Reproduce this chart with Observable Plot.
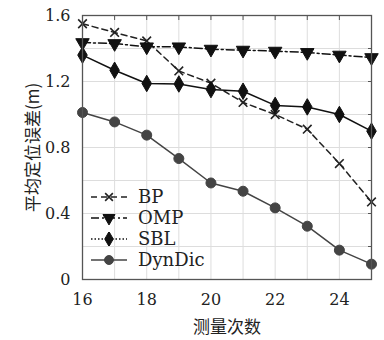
<!DOCTYPE html>
<html><head><meta charset="utf-8">
<script src="https://cdn.jsdelivr.net/npm/d3@7"></script>
<script src="https://cdn.jsdelivr.net/npm/@observablehq/plot@0.6"></script>
<style>
body{margin:0;background:#fff;}
#wrap{position:relative;width:384px;height:340px;}
#legend{position:absolute;left:90px;top:186px;font-family:"DejaVu Serif",serif;font-size:18px;color:#222;}
#legend .row{display:flex;align-items:center;height:21px;}
#legend svg{margin-right:10px;}
svg text{font-family:"DejaVu Serif",serif;}
</style></head>
<body><div id="wrap"><div id="chart"></div><div id="legend"></div></div>
<script>
const xs = [16,17,18,19,20,21,22,23,24,25];
const bp = [1.55,1.497,1.446,1.264,1.19,1.073,1.0,0.911,0.703,0.47];
const omp = [1.436,1.43,1.41,1.41,1.396,1.39,1.384,1.376,1.36,1.345];
const sbl = [1.36,1.268,1.188,1.185,1.151,1.141,1.055,1.046,1.0,0.899];
const dyn = [1.012,0.955,0.875,0.733,0.585,0.535,0.434,0.323,0.178,0.093];
const seriesNames = ["BP","OMP","SBL","DynDic"];
const yTicks = [0,0.4,0.8,1.2,1.6];
const yGrid = [0,0.2,0.4,0.6,0.8,1.0,1.2,1.4,1.6];
const xTicks = [16,18,20,22,24];
const xGrid = [16,17,18,19,20,21,22,23,24,25];

const styles = {
  BP:{stroke:"#222",dash:"6,4",symbol:"times",fill:"none",r:4,rotate:0,legendDash:"6,4"},
  OMP:{stroke:"#111",dash:"8,3,2,3",symbol:"triangle",fill:"#111",r:5,rotate:180,legendDash:"8,3,2,3"},
  SBL:{stroke:"#111",dash:null,symbol:"diamond",fill:"#111",r:5,rotate:0,legendDash:"1.5,2"},
  DynDic:{stroke:"#444",dash:null,symbol:"circle",fill:"#444",r:5,rotate:0,legendDash:null}
};
const vals = {BP:bp,OMP:omp,SBL:sbl,DynDic:dyn};
const data = seriesNames.map(s => xs.map((x,i)=>({x, y: vals[s][i], s})));

const marks = [
  Plot.ruleX(xGrid,{stroke:"#ddd",strokeWidth:1}),
  Plot.ruleY(yGrid,{stroke:"#ddd",strokeWidth:1}),
];
for (const [k,s] of seriesNames.entries()) {
  const st = styles[s];
  marks.push(Plot.line(data[k],{x:"x",y:"y",stroke:st.stroke,strokeWidth:1.5,strokeDasharray:st.dash}));
}
for (const [k,s] of seriesNames.entries()) {
  const st = styles[s];
  marks.push(Plot.dot(data[k],{x:"x",y:"y",symbol:st.symbol,r:st.r,rotate:st.rotate,
    fill:st.fill,stroke:st.stroke,strokeWidth:st.fill==="none"?1.6:1}));
}
marks.push(Plot.axisY({anchor:"right",ticks:yGrid,tickSize:-4,tickFormat:()=>"",stroke:"#555",label:null}));
marks.push(Plot.axisX({anchor:"top",ticks:xGrid,tickSize:-4,tickFormat:()=>"",stroke:"#555",label:null}));
marks.push(Plot.frame({stroke:"#555",strokeWidth:1.3}));
marks.push(Plot.axisY({ticks:yTicks,tickSize:0,tickPadding:12,tickFormat:d=>d===0?"0":d3.format(".1f")(d),
  fontSize:16,label:"平均定位误差(m)",labelAnchor:"center",labelOffset:56,labelArrow:false}));
marks.push(Plot.axisX({ticks:xTicks,tickSize:0,tickPadding:14,tickFormat:d=>String(d),
  fontSize:16,label:"测量次数",labelAnchor:"center",labelOffset:53,labelArrow:false}));

const chart = Plot.plot({
  width:384,height:340,
  marginLeft:82,marginRight:13,marginTop:15,marginBottom:61,
  x:{domain:[16,25]},
  y:{domain:[0,1.6]},
  style:{fontFamily:"DejaVu Serif, serif",fontSize:"16px",color:"#222",background:"#fff"},
  marks
});
document.getElementById("chart").appendChild(chart);
chart.querySelectorAll("[aria-label='y-axis label'] text, [aria-label='x-axis label'] text").forEach(t=>{
  t.style.fontSize="17px"; t.style.fontFamily="'Noto Sans CJK SC',serif";
});

const leg = document.getElementById("legend");
const symPath = {times:d3.symbolTimes,triangle:d3.symbolTriangle,diamond:d3.symbolDiamond,circle:d3.symbolCircle};
for (const s of seriesNames) {
  const st = styles[s];
  const row = document.createElement("div"); row.className="row";
  const sym = d3.symbol(symPath[st.symbol], Math.PI*st.r*st.r*0.8)();
  row.innerHTML = `<svg width="38" height="14"><line x1="1" x2="37" y1="7" y2="7" stroke="${st.stroke}" stroke-width="1.5" ${st.legendDash?`stroke-dasharray="${st.legendDash}"`:""}/>`+
    `<path d="${sym}" transform="translate(19,7) rotate(${st.rotate})" fill="${st.fill}" stroke="${st.stroke}" stroke-width="${st.fill==="none"?1.6:1}"/></svg><span>${s}</span>`;
  leg.appendChild(row);
}
</script></body></html>
